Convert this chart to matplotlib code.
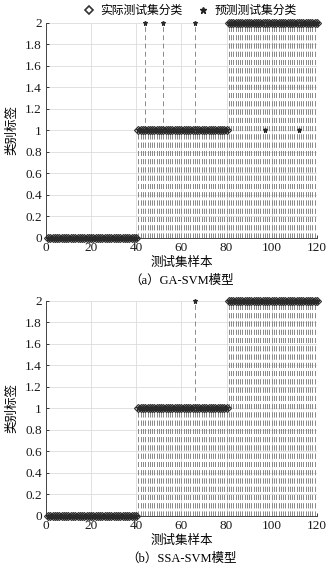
import numpy as np
import matplotlib
matplotlib.use("Agg")
import matplotlib.pyplot as plt
from matplotlib.lines import Line2D

plt.rcParams['font.family'] = ['Liberation Serif', 'Noto Sans CJK SC']
plt.rcParams['axes.unicode_minus'] = False

# test samples 1..120, three classes of 40 samples each
samples = np.arange(1, 121)
actual = np.array([0] * 40 + [1] * 40 + [2] * 40)

# GA-SVM predictions: errors at samples 44, 52, 66 (->2) and 97, 112 (->1)
ga_pred = actual.copy()
ga_pred[[44 - 1, 52 - 1, 66 - 1]] = 2
ga_pred[[97 - 1, 112 - 1]] = 1

# SSA-SVM predictions: single error at sample 66
ssa_pred = actual.copy()
ssa_pred[66 - 1] = 2

yticks = [0, 0.2, 0.4, 0.6, 0.8, 1, 1.2, 1.4, 1.6, 1.8, 2]
ytick_labels = ['0', '0.2', '0.4', '0.6', '0.8', '1', '1.2', '1.4', '1.6', '1.8', '2']
xticks = [0, 20, 40, 60, 80, 100, 120]

fig = plt.figure(figsize=(3.35, 5.72), dpi=100)
ax1 = fig.add_axes([0.137, 0.584, 0.809, 0.376])
ax2 = fig.add_axes([0.137, 0.098, 0.809, 0.376])

stem_color = '#8a8a8a'
mark_color = '#2a2a2a'


def draw_panel(ax, pred, caption):
    for y, mk, ms, mfc in [(actual, 'D', 3.6, 'none'), (pred, '*', 3.6, mark_color)]:
        ml, sl, bl = ax.stem(samples, y, linefmt='--', basefmt=' ')
        sl.set_color(stem_color)
        sl.set_linewidth(0.7)
        sl.set_linestyle((0, (5, 3.5)))
        ml.set_marker(mk)
        ml.set_markersize(ms)
        ml.set_markerfacecolor(mfc)
        ml.set_markeredgecolor(mark_color)
        ml.set_markeredgewidth(0.8)
        ml.set_clip_on(False)
        ml.set_zorder(4)
    ax.set_xlim(0, 120)
    ax.set_ylim(0, 2)
    ax.set_xticks(xticks)
    ax.set_yticks(yticks)
    ax.set_yticklabels(ytick_labels)
    ax.tick_params(direction='in', length=2, width=0.6, labelsize=9.5, pad=3, colors='#1a1a1a')
    ax.grid(True, color='#dcdcdc', linewidth=0.6)
    ax.set_axisbelow(True)
    for side in ['top', 'right']:
        ax.spines[side].set_visible(False)
    for side in ['left', 'bottom']:
        ax.spines[side].set_color('#444444')
        ax.spines[side].set_linewidth(0.7)
    ax.set_xlabel('测试集样本', fontsize=9, labelpad=2)
    ax.set_ylabel('类别标签', fontsize=9, labelpad=5)
    ax.text(0.5, -0.2, caption, transform=ax.transAxes, ha='center', va='center', fontsize=9)


draw_panel(ax1, ga_pred, '（a）GA-SVM模型')
draw_panel(ax2, ssa_pred, '（b）SSA-SVM模型')

handles = [
    Line2D([], [], linestyle='none', marker='D', markersize=4.5, markerfacecolor='none',
           markeredgecolor='#333333', markeredgewidth=1.2, label='实际测试集分类'),
    Line2D([], [], linestyle='none', marker='*', markersize=4.5, markerfacecolor='#222222',
           markeredgecolor='#222222', label='预测测试集分类'),
]
fig.legend(handles=handles, loc='center', bbox_to_anchor=(0.567, 0.981), ncol=2,
           frameon=False, fontsize=8.5, handlelength=1.0, handletextpad=0.5, columnspacing=1.2)

fig.savefig('out.png', dpi=100)
